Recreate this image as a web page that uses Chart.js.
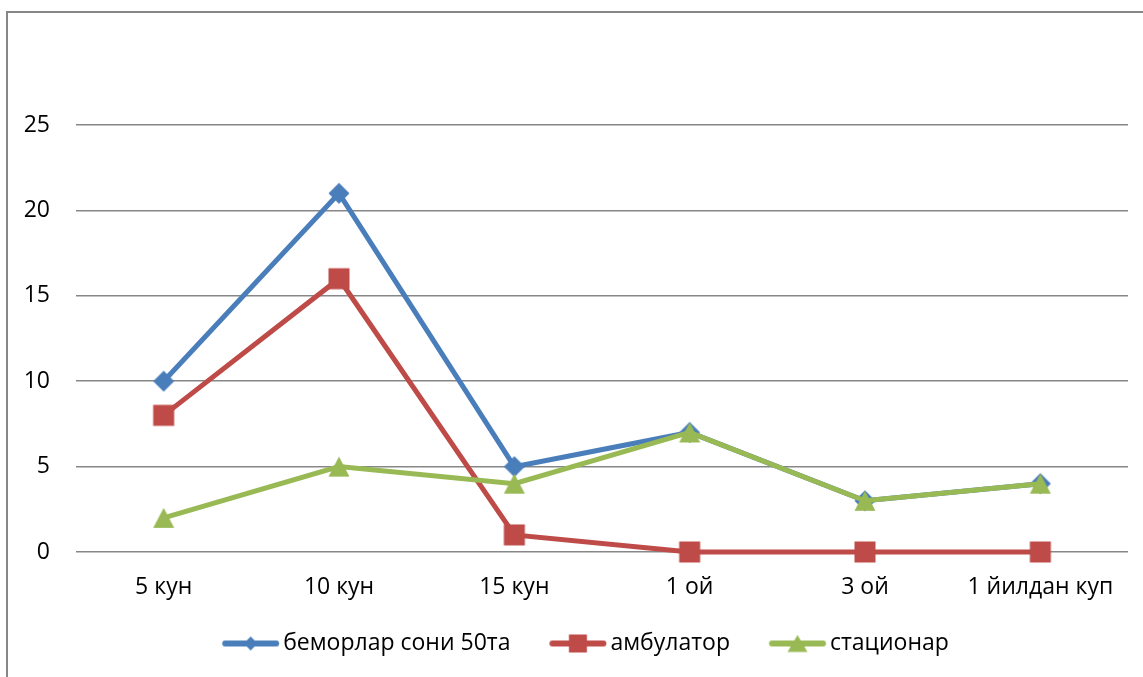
<!DOCTYPE html>
<html>
<head>
<meta charset="utf-8">
<script src="https://cdn.jsdelivr.net/npm/chart.js@4/dist/chart.umd.min.js"></script>
<style>
  html, body { margin: 0; padding: 0; background: #fff; overflow: hidden; }
  #wrap { position: relative; width: 1143px; height: 677px; }
  #frame { position: absolute; left: 6px; top: 11px; width: 1200px; height: 800px;
           border: 2px solid #878787; box-sizing: border-box; }
  #c { position: absolute; left: 0; top: 0; }
</style>
</head>
<body>
<div id="wrap">
  <div id="frame"></div>
  <canvas id="c" width="1143" height="677"></canvas>
</div>
<script>
// Periods after onset
const categories = ['5 кун', '10 кун', '15 кун', '1 ой', '3 ой', '1 йилдан куп'];
const seriesNames = ['беморлар сони 50та', 'амбулатор', 'стационар'];
// Number of patients per period
const totalPatients = [10, 21, 5, 7, 3, 4];
const outpatient = [8, 16, 1, 0, 0, 0];
const inpatient = [2, 5, 4, 7, 3, 4];
const yTicks = [0, 5, 10, 15, 20, 25];

const colors = ['#4A7EBB', '#BE4B48', '#98B954'];
const shapes = ['diamond', 'square', 'triangle'];
const FONT = '"Open Sans", "Liberation Sans", sans-serif';

// Draws a marker shape centred at (cx, cy)
function drawShape(ctx, shape, cx, cy, size) {
  ctx.beginPath();
  if (shape === 'diamond') {
    const r = size.d;
    ctx.moveTo(cx, cy - r); ctx.lineTo(cx + r, cy); ctx.lineTo(cx, cy + r); ctx.lineTo(cx - r, cy);
  } else if (shape === 'square') {
    const r = size.s;
    ctx.rect(cx - r, cy - r, 2 * r, 2 * r);
  } else {
    const hw = size.tw, hh = size.th;
    ctx.moveTo(cx, cy - hh); ctx.lineTo(cx + hw, cy + hh); ctx.lineTo(cx - hw, cy + hh);
  }
  ctx.closePath();
  ctx.fill();
}

// Plot marker as a small canvas
function makePointIcon(shape, color) {
  const cv = document.createElement('canvas');
  cv.width = 26; cv.height = 26;
  const ctx = cv.getContext('2d');
  ctx.fillStyle = color;
  drawShape(ctx, shape, 13, 13, { d: 10.5, s: 10.5, tw: 10.5, th: 10 });
  return cv;
}

// Legend sample: a thick line with a smaller marker in the middle,
// placed toward the right of a wider transparent canvas so it sits next to its text
const LEGEND_ICON_W = 95, LEGEND_LINE_START = 37.25, LEGEND_LINE_LEN = 57;
function makeLegendIcon(shape, color) {
  const h = 22;
  const cv = document.createElement('canvas');
  cv.width = LEGEND_ICON_W; cv.height = h;
  const ctx = cv.getContext('2d');
  ctx.fillStyle = color;
  ctx.strokeStyle = color;
  ctx.lineWidth = 6;
  ctx.lineCap = 'round';
  ctx.beginPath();
  ctx.moveTo(LEGEND_LINE_START + 3, h / 2);
  ctx.lineTo(LEGEND_LINE_START + LEGEND_LINE_LEN - 3, h / 2);
  ctx.stroke();
  drawShape(ctx, shape, LEGEND_LINE_START + LEGEND_LINE_LEN / 2, h / 2, { d: 7, s: 9, tw: 10, th: 8.5 });
  return cv;
}

const pointIcons = shapes.map((s, i) => makePointIcon(s, colors[i]));
const legendIcons = shapes.map((s, i) => makeLegendIcon(s, colors[i]));
const seriesData = [totalPatients, outpatient, inpatient];

const datasets = seriesNames.map((name, i) => ({
  label: name,
  data: seriesData[i],
  borderColor: colors[i],
  backgroundColor: colors[i],
  borderWidth: 5,
  pointStyle: pointIcons[i],
  pointRadius: 10,
  pointHoverRadius: 10,
  tension: 0,
  fill: false,
  clip: false,
  order: 3 - i
}));

new Chart(document.getElementById('c'), {
  type: 'line',
  data: { labels: categories, datasets },
  options: {
    responsive: false,
    animation: false,
    devicePixelRatio: 1,
    layout: { padding: { top: 125, right: 14, left: 13, bottom: 12 } },
    plugins: {
      tooltip: { enabled: false },
      legend: {
        position: 'bottom',
        labels: {
          color: '#000',
          font: { family: FONT, size: 23 },
          usePointStyle: true,
          pointStyleWidth: 78.5,
          padding: 10,
          sort: (a, b) => a.datasetIndex - b.datasetIndex,
          generateLabels(chart) {
            const items = Chart.defaults.plugins.legend.labels.generateLabels(chart);
            items.forEach(it => { it.pointStyle = legendIcons[it.datasetIndex]; });
            return items;
          }
        }
      }
    },
    scales: {
      x: {
        offset: true,
        grid: { display: false, drawTicks: false },
        border: { display: false },
        ticks: { color: '#000', font: { family: FONT, size: 23 }, padding: 22, maxRotation: 0, autoSkip: false },
        afterFit(scale) { scale.height = 70; }
      },
      y: {
        min: yTicks[0],
        max: yTicks[yTicks.length - 1],
        afterBuildTicks(scale) { scale.ticks = yTicks.map(v => ({ value: v })); },
        grid: { color: '#878787', lineWidth: 1.5, drawTicks: false },
        border: { display: false },
        ticks: { color: '#000', font: { family: FONT, size: 23 }, padding: 26 },
        afterFit(scale) { scale.width = 63; }
      }
    }
  }
});
</script>
</body>
</html>
